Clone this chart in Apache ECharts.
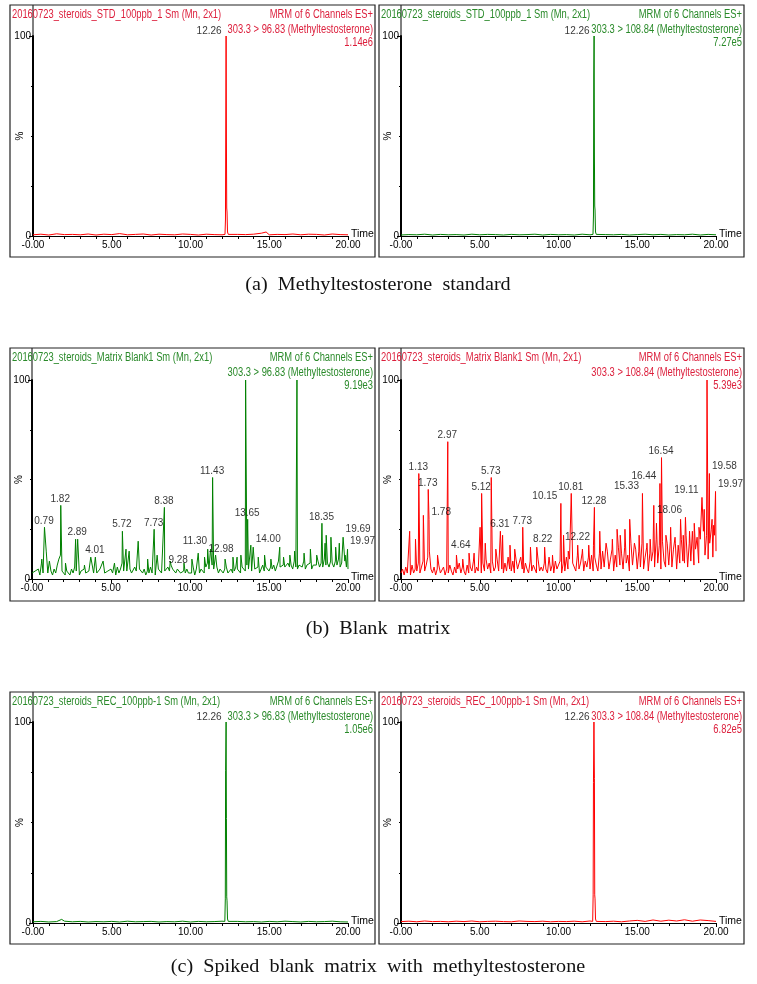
<!DOCTYPE html>
<html><head><meta charset="utf-8">
<script src="https://cdn.jsdelivr.net/npm/echarts@6/dist/echarts.min.js"></script>
<style>html,body{margin:0;padding:0;background:#fff}#c{width:757px;height:984px}</style>
</head><body><div id="c"></div>
<script>
// ---------------- DATA ----------------
const sampleNames = [
  '20160723_steroids_STD_100ppb_1 Sm (Mn, 2x1)',
  '20160723_steroids_STD_100ppb_1 Sm (Mn, 2x1)',
  '20160723_steroids_Matrix Blank1 Sm (Mn, 2x1)',
  '20160723_steroids_Matrix Blank1 Sm (Mn, 2x1)',
  '20160723_steroids_REC_100ppb-1 Sm (Mn, 2x1)',
  '20160723_steroids_REC_100ppb-1 Sm (Mn, 2x1)'
];
const scanInfo = 'MRM of 6 Channels ES+';
const transitions = [
  '303.3 > 96.83 (Methyltestosterone)',
  '303.3 > 108.84 (Methyltestosterone)',
  '303.3 > 96.83 (Methyltestosterone)',
  '303.3 > 108.84 (Methyltestosterone)',
  '303.3 > 96.83 (Methyltestosterone)',
  '303.3 > 108.84 (Methyltestosterone)'
];
const maxIntensities = ['1.14e6', '7.27e5', '9.19e3', '5.39e3', '1.05e6', '6.82e5'];
const captions = [
  '(a)  Methyltestosterone  standard',
  '(b)  Blank  matrix',
  '(c)  Spiked  blank  matrix  with  methyltestosterone'
];
const xTickLabels = ['-0.00', '5.00', '10.00', '15.00', '20.00'];
const yTickLabels = { 0: '0', 100: '100' };
const xAxisName = 'Time';
const yAxisName = '%';

// baseline traces of standards, relative intensity (%) every 0.5 min from 0 to 20
const stdRedBase   = [0.6,0.9,0.5,1.1,0.7,0.8,0.6,1.0,0.5,0.9,0.7,1.2,0.6,0.8,1.0,0.5,0.9,0.7,0.6,1.0,0.8,0.5,0.9,0.7,0.6,1.0,0.8,0.7,0.9,1.4,0.6,0.8,0.7,1.0,0.6,0.9,0.8,0.5,1.0,0.7,0.6];
const stdGreenBase = [0.5,0.7,0.6,0.9,0.5,0.8,0.6,0.7,0.5,0.9,0.6,0.8,0.7,0.5,0.8,0.6,0.7,0.9,0.5,0.8,0.6,0.7,0.5,0.9,0.6,0.8,0.7,0.6,0.8,0.5,0.7,0.9,0.6,0.8,0.5,0.7,0.6,0.9,0.5,0.8,0.6];
const recGreenBase = [0.6,0.8,0.5,0.7,0.9,0.6,0.8,0.5,0.7,0.6,0.8,0.5,0.9,0.6,0.7,0.8,0.5,0.7,0.6,0.9,0.5,0.8,0.6,0.7,0.9,0.5,0.8,0.6,0.7,0.5,0.8,0.6,0.9,0.7,0.5,0.8,0.6,0.7,0.9,0.6,0.5];
const recRedBase   = [0.7,0.9,0.6,1.0,0.7,0.8,0.6,0.9,0.7,1.0,0.6,0.8,0.9,0.7,0.6,1.0,0.8,0.7,0.9,0.6,0.8,0.7,0.9,0.6,1.0,0.8,0.7,0.9,0.6,1.0,1.3,0.8,1.5,0.9,1.4,1.0,1.6,0.9,1.5,1.2,0.8];

// chromatographic peaks of standards [time (min), %]
const stdRedPeak   = [[12.19,0.8],[12.22,8],[12.24,55],[12.26,100],[12.28,48],[12.30,14],[12.32,12],[12.35,2],[12.40,0.8],[14.80,2.0]];
const stdGreenPeak = [[12.19,0.8],[12.22,10],[12.24,80],[12.26,100],[12.28,40],[12.30,15],[12.32,13],[12.35,2],[12.40,0.8]];
const recGreenPeak = [[1.82,1.8],[12.18,0.8],[12.21,12],[12.23,76],[12.26,100],[12.28,52],[12.30,13],[12.32,11],[12.35,2],[12.40,0.8]];
const recRedPeak   = [[12.17,0.8],[12.20,14],[12.22,70],[12.25,100],[12.28,72],[12.30,14],[12.32,12],[12.35,2],[12.40,0.8],[17.10,2.2],[18.60,1.8]];

// blank matrix noise traces, % every 0.1 min from 0 to 20
const blankGreenNoise = [
  3,2,4,3,5,2,8,3,4,2,  3,9,4,2,5,3,7,10,12,4,  3,2,4,3,2,5,3,6,4,3,  2,4,3,5,3,2,4,3,11,3,
  4,3,2,5,4,9,3,2,4,3,  5,3,4,2,6,3,5,8,4,3,  4,3,5,3,2,6,4,3,5,4,  3,5,2,4,3,6,3,4,2,3,
  5,4,3,2,4,3,6,4,7,5,  4,3,5,4,3,2,4,3,5,3,  4,3,6,2,5,4,3,5,4,3,  6,8,5,9,7,5,4,6,3,5,
  4,3,5,6,3,4,5,3,4,6,  5,4,3,6,5,4,7,5,6,4,  8,5,4,6,3,5,7,4,6,5,  4,6,5,7,4,5,9,6,5,7,
  6,5,8,6,7,5,9,6,5,7,  8,6,9,5,7,6,8,5,7,6,  7,9,6,8,6,10,7,8,6,9,  8,6,9,7,10,6,8,7,9,6,  5
];
const blankRedNoise = [
  3,5,2,6,3,4,2,7,3,5,  4,8,3,6,9,4,7,11,14,5,  3,6,2,5,7,3,4,6,2,5,  3,7,4,2,6,3,5,8,3,6,
  4,2,7,3,6,4,9,3,6,4,  5,3,8,4,10,5,8,3,9,4,  6,10,4,12,5,3,8,4,11,5,  4,9,3,10,5,4,11,5,3,8,
  5,3,9,4,7,5,3,10,4,6,  4,8,5,3,11,4,7,3,9,5,  4,9,3,8,4,11,5,10,4,8,  9,4,12,5,8,13,4,9,6,11,
  5,12,4,11,7,4,13,5,14,6,  6,14,5,10,15,4,12,6,16,7,  13,5,16,8,12,4,18,7,6,15,  5,14,6,18,5,11,16,4,13,9,
  14,6,20,8,17,5,19,9,6,18,  7,19,6,15,21,5,17,8,20,9,  8,22,6,18,9,24,7,15,21,8,  20,9,24,12,22,10,18,25,11,22,  14
];
// blank matrix spikes [time (min), %]
const blankGreenSpikes = [
  [0.62,10],[0.79,26],[0.90,14],[1.13,8],[1.82,37],[2.12,8],[2.76,20],[2.89,20],[3.32,7],[3.72,11],[4.01,11],[4.52,9],
  [5.22,8],[5.72,24],[5.95,15],[6.15,14],[6.72,19],[7.32,10],[7.73,25],[7.92,12],[8.38,36],[8.75,9],[9.28,6],[9.62,8],
  [10.12,10],[10.52,13],[10.92,11],[11.12,15],[11.30,15],[11.43,51],[11.62,12],[12.22,10],[12.72,11],[12.98,11],[13.22,12],
  [13.52,100],[13.65,30],[13.85,17],[14.00,16],[14.32,11],[14.72,12],[15.12,10],[15.68,16],[15.92,11],[16.32,12],[16.62,14],
  [16.77,100],[17.22,13],[17.62,15],[18.02,12],[18.35,28],[18.55,18],[18.62,22],[18.92,21],[19.22,16],[19.45,18],[19.69,21],[19.82,12],[19.97,15]
];
const blankRedSpikes = [
  [0.55,24],[0.92,20],[1.13,53],[1.42,32],[1.73,45],[1.78,30],[2.32,12],[2.97,69],[3.52,12],[3.92,10],[4.32,13],[4.64,13],
  [5.02,26],[5.12,43],[5.35,18],[5.73,51],[6.02,15],[6.31,24],[6.45,22],[6.92,17],[7.22,15],[7.73,26],[8.22,16],[8.62,16],
  [9.12,16],[9.62,12],[10.15,38],[10.32,22],[10.62,14],[10.81,43],[11.22,17],[11.52,15],[11.92,17],[12.22,17],[12.28,36],
  [12.62,24],[13.02,18],[13.42,20],[13.72,25],[13.92,22],[14.22,25],[14.52,30],[14.82,18],[15.12,22],[15.33,43],[15.62,18],
  [15.82,20],[16.05,37],[16.22,28],[16.44,48],[16.54,61],[16.82,22],[17.12,26],[17.42,18],[17.75,30],[17.92,22],[18.06,31],
  [18.32,24],[18.62,28],[18.92,26],[19.11,41],[19.25,35],[19.43,100],[19.58,53],[19.75,30],[19.85,27],[19.97,44]
];

// labelled peak apexes [time (min), %]
const stdApexRed   = [[12.26,100]];
const stdApexGreen = [[12.26,100]];
const recApexGreen = [[12.26,100]];
const recApexRed   = [[12.26,100]];
const blankGreenApex = [[0.79,26],[1.82,37],[2.89,20],[4.01,11],[5.72,24],[7.73,25],[8.38,36],[9.28,6],[11.30,15],[11.43,51],[12.98,11],[13.65,30],[14.00,16],[18.35,28],[19.69,21],[19.97,15]];
const blankRedApex = [[1.13,53],[1.73,45],[1.78,30],[2.97,69],[4.64,13],[5.12,43],[5.73,51],[6.31,24],[7.73,26],[8.22,16],[10.15,38],[10.81,43],[12.22,17],[12.28,36],[15.33,43],[16.44,48],[16.54,61],[18.06,31],[19.11,41],[19.58,53],[19.97,44]];

// ---------------- LAYOUT / STYLE ----------------
const RED = '#ff0000', GREEN = '#008000';
const RED_TXT = '#dc1f3c', GREEN_TXT = '#2a8a2a';
const SANS = '"Liberation Sans", Arial, sans-serif';
const SERIF = '"Liberation Serif", "Times New Roman", serif';
const NARROW_SCALE = 0.78;

// label placement codes for apex labels (T top, L left, R right, S left beside apex)
const placeStd = ['S'];
const placeBlankGreen = ['T','T','T','T','T','T','T','T','L','T','L','T','R','T','R','R'];
const placeBlankRed = ['T','T','R','T','L','T','T','T','T','R','L','T','L','T','L','L','T','L','L','R','R'];

const panels = [
  { box:[10,5,365,252],   grid:{left:33, top:36, width:315, height:200}, line:RED,   txt:RED_TXT,   base:stdRedBase,   step:0.5, extra:stdRedPeak,   apex:stdApexRed,   place:placeStd },
  { box:[379,5,365,252],  grid:{left:401,top:36, width:315, height:200}, line:GREEN, txt:GREEN_TXT, base:stdGreenBase, step:0.5, extra:stdGreenPeak, apex:stdApexGreen, place:placeStd },
  { box:[10,348,365,253], grid:{left:32, top:380,width:316, height:199}, line:GREEN, txt:GREEN_TXT, base:blankGreenNoise, step:0.1, extra:blankGreenSpikes, apex:blankGreenApex, place:placeBlankGreen },
  { box:[379,348,365,253],grid:{left:401,top:380,width:315, height:199}, line:RED,   txt:RED_TXT,   base:blankRedNoise,   step:0.1, extra:blankRedSpikes,   apex:blankRedApex,   place:placeBlankRed },
  { box:[10,692,365,252], grid:{left:33, top:722,width:315, height:201}, line:GREEN, txt:GREEN_TXT, base:recGreenBase, step:0.5, extra:recGreenPeak, apex:recApexGreen, place:placeStd },
  { box:[379,692,365,252],grid:{left:401,top:722,width:315, height:201}, line:RED,   txt:RED_TXT,   base:recRedBase,   step:0.5, extra:recRedPeak,   apex:recApexRed,   place:placeStd }
];
const captionY = [285, 629, 967];

function buildTrace(base, step, extra) {
  const pts = [];
  base.forEach((v, i) => {
    const t = Math.round(i * step * 100) / 100;
    if (!extra.some(p => Math.abs(p[0] - t) < 0.015)) pts.push([t, v]);
  });
  extra.forEach(p => pts.push([p[0], p[1]]));
  pts.sort((a, b) => a[0] - b[0]);
  return pts;
}
const placeMap = {
  T: { align: 'center', offset: [0, -1] },
  L: { align: 'right', offset: [-3, -2] },
  R: { align: 'left', offset: [3, -2] },
  S: { align: 'right', offset: [-4, 1] }
};
function narrowText(text, x, y, color, align) {
  return {
    type: 'text', x: x, y: y, scaleX: NARROW_SCALE, silent: true, z: 5,
    style: { text: text, x: 0, y: 0, fill: color, font: '12px ' + SANS, textAlign: align, textVerticalAlign: 'middle' }
  };
}

const grids = [], xAxes = [], yAxes = [], series = [], graphics = [];
panels.forEach((p, i) => {
  grids.push(Object.assign({ containLabel: false }, p.grid));
  xAxes.push({
    gridIndex: i, type: 'value', min: 0, max: 20, interval: 5,
    axisLine: { onZero: false, lineStyle: { color: '#000', width: 1 } },
    axisTick: { show: true, length: 4, lineStyle: { color: '#000' } },
    minorTick: { show: true, splitNumber: 5, length: 3, lineStyle: { color: '#000' } },
    axisLabel: { color: '#000', fontSize: 10, fontFamily: SANS, margin: 4, formatter: v => xTickLabels[Math.round(v / 5)] },
    splitLine: { show: false }, minorSplitLine: { show: false },
    name: xAxisName, nameLocation: 'end', nameGap: 3,
    nameTextStyle: { color: '#000', fontSize: 10.5, fontFamily: SANS, align: 'left', verticalAlign: 'bottom', padding: [0, 0, -4, 0] }
  });
  yAxes.push({
    gridIndex: i, type: 'value', min: 0, max: 100, interval: 100,
    axisLine: { show: true, lineStyle: { color: '#000', width: 2 } },
    axisTick: { show: true, length: 4, lineStyle: { color: '#000' } },
    minorTick: { show: true, splitNumber: 4, length: 2, lineStyle: { color: '#000' } },
    axisLabel: { color: '#000', fontSize: 10, fontFamily: SANS, margin: 2, formatter: v => yTickLabels[v] || '' },
    splitLine: { show: false },
    name: yAxisName, nameLocation: 'middle', nameGap: 8, nameRotate: 90, nameMoveOverlap: false,
    nameTextStyle: { color: '#000', fontSize: 10, fontFamily: SANS }
  });
  series.push({
    type: 'line', xAxisIndex: i, yAxisIndex: i, showSymbol: false, symbol: 'none',
    data: buildTrace(p.base, p.step, p.extra),
    lineStyle: { color: p.line, width: 1 }, itemStyle: { color: p.line },
    silent: true, animation: false, z: 3
  });
  series.push({
    type: 'scatter', xAxisIndex: i, yAxisIndex: i, symbol: 'rect', symbolSize: 1,
    itemStyle: { color: 'rgba(0,0,0,0)' }, silent: true, animation: false, z: 4,
    data: p.apex.map((a, k) => {
      const m = placeMap[p.place[k] || 'T'];
      return {
        value: a,
        label: {
          show: true, formatter: a[0].toFixed(2), position: [0, 0],
          align: m.align, verticalAlign: 'bottom', offset: m.offset,
          color: '#000', fontSize: 10, fontFamily: SANS
        }
      };
    })
  });
  const [bx, by, bw, bh] = p.box;
  graphics.push({ type: 'rect', shape: { x: bx, y: by, width: bw, height: bh }, style: { fill: 'none', stroke: '#222', lineWidth: 1.2 }, silent: true, z: 1 });
  graphics.push({ type: 'line', shape: { x1: p.grid.left, y1: by, x2: p.grid.left, y2: p.grid.top }, style: { stroke: '#000', lineWidth: 1 }, silent: true });
  graphics.push(narrowText(sampleNames[i], bx + 2, by + 10, p.txt, 'left'));
  graphics.push(narrowText(scanInfo, bx + bw - 2, by + 10, p.txt, 'right'));
  graphics.push(narrowText(transitions[i], bx + bw - 2, by + 25, p.txt, 'right'));
  graphics.push(narrowText(maxIntensities[i], bx + bw - 2, by + 38, p.txt, 'right'));
});
captions.forEach((c, k) => {
  graphics.push({
    type: 'text', x: 378, y: captionY[k], scaleX: 1.12, silent: true,
    style: { text: c, x: 0, y: 0, fill: '#111', font: '18px ' + SERIF, textAlign: 'center', textVerticalAlign: 'middle' }
  });
});

const chart = echarts.init(document.getElementById('c'), null, { renderer: 'canvas' });
chart.setOption({
  animation: false,
  backgroundColor: '#fff',
  grid: grids, xAxis: xAxes, yAxis: yAxes, series: series, graphic: graphics
});
</script></body></html>
